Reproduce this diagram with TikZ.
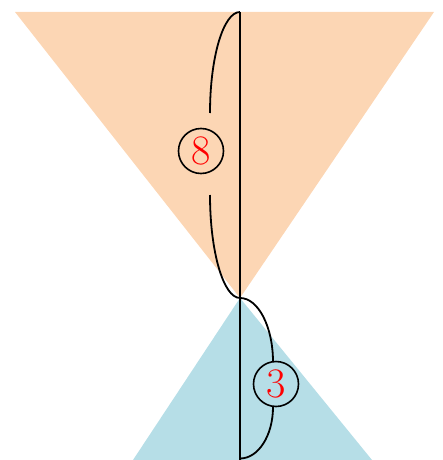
\documentclass[tikz,border=0pt]{standalone}
\definecolor{conetop}{RGB}{252,214,180}
\definecolor{conebot}{RGB}{182,222,231}
\begin{document}
\begin{tikzpicture}[x=1pt,y=-1pt,
  line/.style={line width=1.8pt,black},
  lbl/.style={circle,draw,line width=1.6pt,minimum size=45pt,inner sep=0pt,text=red,font=\fontsize{42}{44}\selectfont}]
\useasboundingbox (0,0) rectangle (442,460);
\coordinate (tl) at (15,12);
\coordinate (tr) at (434,12);
\coordinate (apex) at (240,298);
\coordinate (bl) at (133,460);
\coordinate (br) at (372,460);
\coordinate (top) at (240,12);
\coordinate (bot) at (240,460);
\coordinate (botc) at (240,458.5);
\fill[conetop] (tl) -- (tr) -- (apex) -- cycle;
\fill[conebot] (apex) -- (br) -- (bl) -- cycle;
\draw[line] (top) -- (bot);
% left brace
\node[lbl] (eight) at (201,151) {8};
\coordinate (la) at (210,113);
\coordinate (lb) at (210,195);
\draw[line] (top) .. controls (223.4,12) and (210,57.2) .. (la);
\draw[line] (lb) .. controls (210,251.7) and (223.4,298) .. (apex);
% right brace
\node[lbl] (three) at (276,384) {3};
\coordinate (ra) at (273,362);
\coordinate (rb) at (273,407);
\draw[line] (apex) .. controls (258.2,298) and (273,326.7) .. (ra);
\draw[line] (rb) .. controls (273,435.7) and (258.2,458.5) .. (botc);
\end{tikzpicture}
\end{document}
